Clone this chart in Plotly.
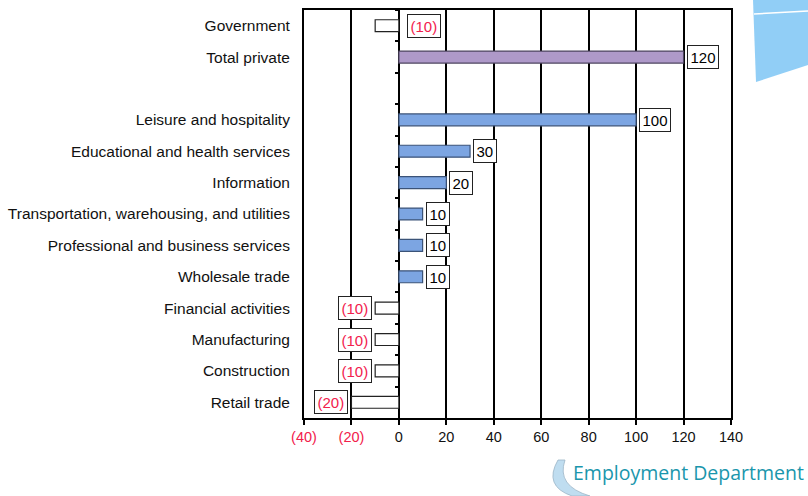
import plotly.graph_objects as go

categories = ["Government", "Total private", " ", "Leisure and hospitality",
              "Educational and health services", "Information",
              "Transportation, warehousing, and utilities",
              "Professional and business services", "Wholesale trade",
              "Financial activities", "Manufacturing", "Construction", "Retail trade"]
values = [-10, 120, None, 100, 30, 20, 10, 10, 10, -10, -10, -10, -20]
x_tick_vals = [-40, -20, 0, 20, 40, 60, 80, 100, 120, 140]

RED = "#F2204C"
BLUE = "#7CA5E2"
PURPLE = "#AE99C9"
FONT = "Liberation Sans, Arial, sans-serif"
LABEL_AT_ZERO = {"Government"}

def fmt(v):
    return f"({abs(v)})" if v < 0 else f"{v}"

x_tick_text = [f"<span style='color:{RED}'>{fmt(v)}</span>" if v < 0 else fmt(v) for v in x_tick_vals]

colors, lines = [], []
for c, v in zip(categories, values):
    if v is None:
        colors.append("white"); lines.append("black")
    elif v < 0:
        colors.append("white"); lines.append("#222222")
    elif c == "Total private":
        colors.append(PURPLE); lines.append("#4d4560")
    else:
        colors.append(BLUE); lines.append("#3b5378")

fig = go.Figure()
fig.add_trace(go.Bar(
    y=categories, x=values, orientation="h",
    marker=dict(color=colors, line=dict(color=lines, width=1.2)),
    width=0.38, hoverinfo="skip", showlegend=False,
))
# helper trace for the tick axis at zero
fig.add_trace(go.Scatter(
    y=categories, x=[0] * len(categories), yaxis="y2", mode="markers",
    marker=dict(opacity=0), hoverinfo="skip", showlegend=False,
))

for c, v in zip(categories, values):
    if v is None:
        continue
    if c in LABEL_AT_ZERO:
        xa, anchor, shift = 0, "left", 8
    elif v < 0:
        xa, anchor, shift = v, "right", -3
    else:
        xa, anchor, shift = v, "left", 3
    fig.add_annotation(
        x=xa, y=c, text=fmt(v), showarrow=False, xanchor=anchor, xshift=shift,
        font=dict(family=FONT, size=15, color=RED if v < 0 else "black"),
        bgcolor="white", bordercolor="#222222", borderwidth=1, borderpad=2.5,
    )

xmin, xmax = -40, 140
fig.update_layout(
    width=808, height=496,
    margin=dict(l=304, r=77, t=10, b=78),
    paper_bgcolor="white", plot_bgcolor="white",
    font=dict(family=FONT, size=15, color="#111111"),
    xaxis=dict(
        range=[xmin, xmax], tickvals=x_tick_vals, ticktext=x_tick_text,
        showgrid=True, gridcolor="black", gridwidth=2,
        zeroline=True, zerolinecolor="black", zerolinewidth=2,
        showline=True, linecolor="black", linewidth=2, mirror=True,
        ticks="outside", ticklen=5, tickwidth=2, tickcolor="black",
        tickfont=dict(size=14.5, color="#111111"), fixedrange=True, automargin=False,
    ),
    yaxis=dict(
        type="category", categoryarray=categories, range=[len(categories) - 0.5, -0.5],
        showgrid=False, zeroline=False, ticks="", ticklabelstandoff=9,
        showline=True, linecolor="black", linewidth=2, mirror=True,
        tickfont=dict(size=15.5, color="#111111"), fixedrange=True, automargin=False,
    ),
    yaxis2=dict(
        type="category", categoryarray=categories, range=[len(categories) - 0.5, -0.5],
        overlaying="y", anchor="free", position=(0 - xmin) / (xmax - xmin), side="left",
        tickson="boundaries", ticks="outside", ticklen=4, tickwidth=2, tickcolor="black",
        showticklabels=False, showgrid=False, showline=False, zeroline=False,
        fixedrange=True, automargin=False,
    ),
    bargap=0.62,
)

# decoration: top-right blue tab and logo
W, H, L = 427, 408, 304
def px(x): return (x - L) / W
def py(y): return (418 - y) / H
fig.add_shape(type="path", xref="paper", yref="paper",
              path=f"M {px(753)} {py(0)} L {px(808)} {py(0)} L {px(808)} {py(65)} L {px(756)} {py(82)} Z",
              fillcolor="#6CBDF3", line=dict(width=0), opacity=0.75, layer="below")
fig.add_shape(type="line", xref="paper", yref="paper",
              x0=px(754), y0=py(14), x1=px(808), y1=py(11),
              line=dict(color="white", width=1.5))
fig.add_shape(type="path", xref="paper", yref="paper",
              path=f"M {px(558)} {py(460)} Q {px(543)} {py(486)} {px(572)} {py(496)} L {px(590)} {py(496)} Q {px(556)} {py(486)} {px(565)} {py(460)} Z",
              fillcolor="#B5D8EE", line=dict(color="#8AA8BE", width=0.8), opacity=0.85)
fig.add_annotation(xref="paper", yref="paper", x=px(806), y=py(472), xanchor="right", yanchor="middle",
                   text="Employment Department", showarrow=False,
                   font=dict(family="Open Sans, Noto Sans, sans-serif", size=19.5, color="#1A96AC"))

fig.write_html("out.html")
